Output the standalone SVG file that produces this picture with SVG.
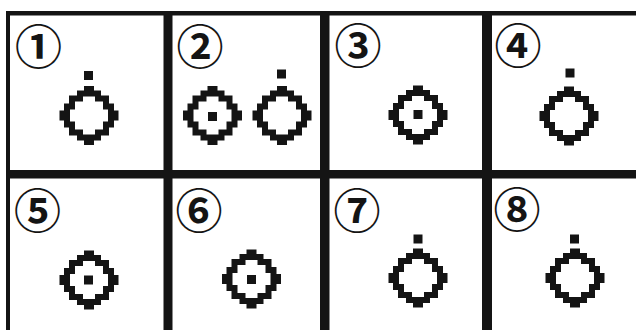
<svg xmlns="http://www.w3.org/2000/svg" xmlns:xlink="http://www.w3.org/1999/xlink" width="636" height="330" viewBox="0 0 636 330">
  <style>
    .frame { fill: #141414; }
    .num { font-family: "Noto Sans CJK JP", "DejaVu Sans", sans-serif; font-size: 47px; font-weight: bold; fill: #141414; text-anchor: middle; dominant-baseline: central; }
    .ink { fill: #141414; }
  </style>
  <defs>
    <path id="ring" class="ink" fill-rule="evenodd" d="M-5,-29.5 H5 V-25 H12 V-20 H20 V-12 H25 V-5 H29.5 V5 H25 V12 H20 V20 H12 V25 H5 V29.5 H-5 V25 H-12 V20 H-20 V12 H-25 V5 H-29.5 V-5 H-25 V-12 H-20 V-20 H-12 V-25 H-5 Z M-6,-19 H6 V-14 H14 V-6 H19 V6 H14 V14 H6 V19 H-6 V14 H-14 V6 H-19 V-6 H-14 V-14 H-6 Z"/>
    <rect id="dot" class="ink" x="-4.5" y="-4.5" width="9" height="9"/>
  </defs>
  <rect width="636" height="330" fill="#ffffff"/>

  <g id="frame">
    <rect class="frame" x="6" y="11" width="630" height="4.5"/>
    <rect class="frame" x="6" y="11" width="4" height="319"/>
    <rect class="frame" x="163.5" y="11" width="9" height="319"/>
    <rect class="frame" x="320" y="11" width="9.5" height="319"/>
    <rect class="frame" x="482" y="11" width="10" height="319"/>
    <rect class="frame" x="6" y="170" width="630" height="8.5"/>
  </g>

  <g id="panel1">
    <text class="num" x="38.5" y="43">①</text>
    <use xlink:href="#ring" x="89" y="115.5"/>
    <use xlink:href="#dot" x="88.5" y="75.5"/>
  </g>
  <g id="panel2">
    <text class="num" x="200" y="43">②</text>
    <use xlink:href="#ring" x="212.5" y="115.5"/>
    <use xlink:href="#dot" x="212.5" y="116.5"/>
    <use xlink:href="#ring" x="282" y="115.5"/>
    <use xlink:href="#dot" x="281.5" y="74"/>
  </g>
  <g id="panel3">
    <text class="num" x="358" y="42">③</text>
    <use xlink:href="#ring" x="418" y="115"/>
    <use xlink:href="#dot" x="418" y="114.5"/>
  </g>
  <g id="panel4">
    <text class="num" x="518" y="42">④</text>
    <use xlink:href="#ring" x="569" y="116"/>
    <use xlink:href="#dot" x="570" y="73"/>
  </g>
  <g id="panel5">
    <text class="num" x="37.5" y="207">⑤</text>
    <use xlink:href="#ring" x="89" y="280"/>
    <use xlink:href="#dot" x="88.5" y="280"/>
  </g>
  <g id="panel6">
    <text class="num" x="199" y="207">⑥</text>
    <use xlink:href="#ring" x="251.5" y="279"/>
    <use xlink:href="#dot" x="251.5" y="279.5"/>
  </g>
  <g id="panel7">
    <text class="num" x="357" y="207">⑦</text>
    <use xlink:href="#ring" x="418" y="278"/>
    <use xlink:href="#dot" x="418" y="239"/>
  </g>
  <g id="panel8">
    <text class="num" x="517" y="206">⑧</text>
    <use xlink:href="#ring" x="575" y="278"/>
    <use xlink:href="#dot" x="574.5" y="239"/>
  </g>
</svg>
